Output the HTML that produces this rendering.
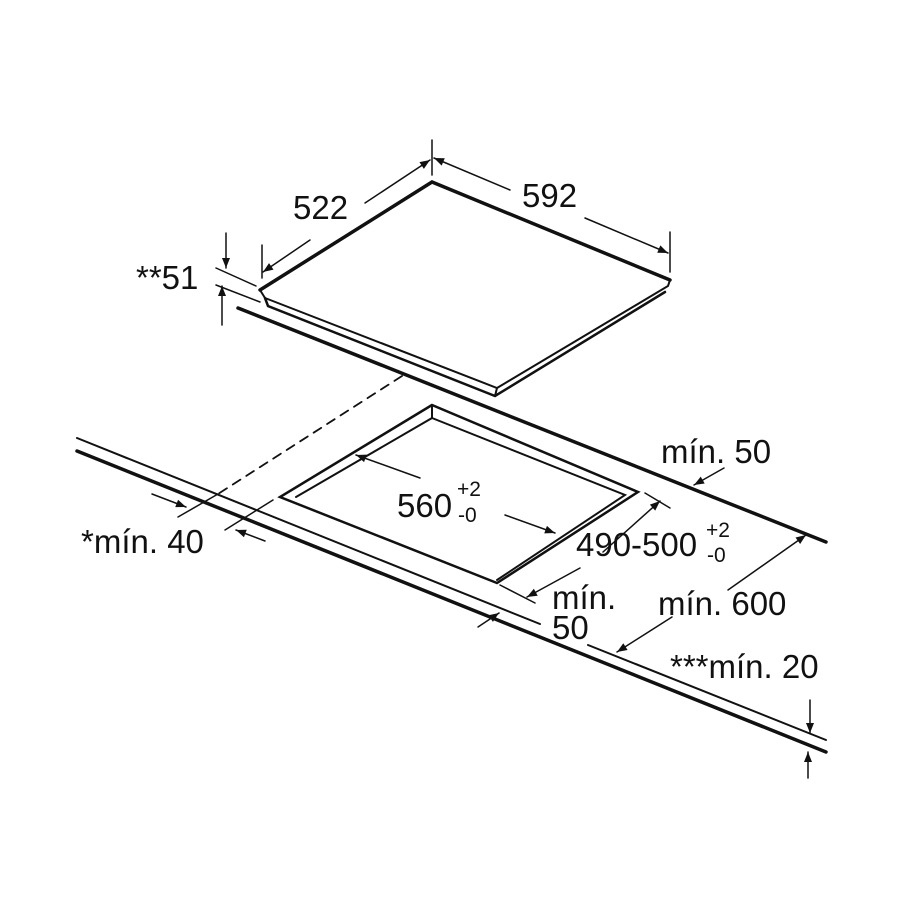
<!DOCTYPE html>
<html><head><meta charset="utf-8"><style>
html,body{margin:0;padding:0;background:#fff}
svg{display:block}
text{font-family:"Liberation Sans",Arial,sans-serif;fill:#111}
</style></head><body>
<svg width="900" height="900" viewBox="0 0 900 900" xmlns="http://www.w3.org/2000/svg">
<defs>
<marker id="a" viewBox="0 0 10 10" refX="10" refY="5" markerWidth="12" markerHeight="10" orient="auto-start-reverse" markerUnits="userSpaceOnUse"><path d="M0,1 L10,5 L0,9 z" fill="#111"/></marker>
</defs>
<g stroke="#111" fill="none" stroke-linecap="round">
<path d="M260,290 L432,182 L670,280" stroke-width="3.5"/>
<path d="M260,290 L265,298 L497,388 L668,286 L670,280" stroke-width="2"/>
<path d="M265,298 L268,306 L495,396 L665,292" stroke-width="2.5"/>
<path d="M497,388 L495,396" stroke-width="2"/>
<path d="M238,308 L826,542" stroke-width="3.5"/>
<path d="M77,438 L540,624 M588,645 L826,740" stroke-width="2"/>
<path d="M77,451 L826,752" stroke-width="3.5"/>
<path d="M432,405 L280,497 L497,583 L638,492 Z" stroke-width="2.5"/>
<path d="M432,405 L432,418 L296,497 M432,418 L625,495 L497,580" stroke-width="2"/>
<path d="M402,376 L218,494" stroke-width="1.8" stroke-dasharray="9,7"/>
<path d="M218,494 L178,517" stroke-width="1.5"/>
<path d="M273,500 L225,530" stroke-width="1.5"/>
<path d="M262,245 L262,278 M432,140 L432,175 M670,232 L670,272" stroke-width="1.5"/>
<path d="M310,240 L263,272" stroke-width="1.5" marker-end="url(#a)"/>
<path d="M365,203 L430,160" stroke-width="1.5" marker-end="url(#a)"/>
<path d="M510,190 L434,158" stroke-width="1.5" marker-end="url(#a)"/>
<path d="M585,218 L668,253" stroke-width="1.5" marker-end="url(#a)"/>
<path d="M216,268 L256,286 M216,285 L260,302" stroke-width="1.5"/>
<path d="M226,233 L226,268" stroke-width="1.5" marker-end="url(#a)"/>
<path d="M222,325 L222,286" stroke-width="1.5" marker-end="url(#a)"/>
<path d="M152,494 L186,507" stroke-width="1.5" marker-end="url(#a)"/>
<path d="M265,541 L236,530" stroke-width="1.5" marker-end="url(#a)"/>
<path d="M420,478 L356,455" stroke-width="1.5" marker-end="url(#a)"/>
<path d="M505,515 L555,533" stroke-width="1.5" marker-end="url(#a)"/>
<path d="M645,493 L670,508 M500,585 L535,603" stroke-width="1.5"/>
<path d="M603,552 L660,501" stroke-width="1.5" marker-end="url(#a)"/>
<path d="M580,568 L527,597" stroke-width="1.5" marker-end="url(#a)"/>
<path d="M724,468 L694,485" stroke-width="1.5" marker-end="url(#a)"/>
<path d="M728,590 L806,535" stroke-width="1.5" marker-end="url(#a)"/>
<path d="M672,617 L617,652" stroke-width="1.5" marker-end="url(#a)"/>
<path d="M478,627 L499,613" stroke-width="1.5" marker-end="url(#a)"/>
<path d="M810,700 L810,733" stroke-width="1.5" marker-end="url(#a)"/>
<path d="M808,778 L808,752" stroke-width="1.5" marker-end="url(#a)"/>
</g>
<g font-size="33">
<text x="293" y="219">522</text>
<text x="522" y="207">592</text>
<text x="136" y="289">**51</text>
<text x="397" y="517">560</text>
<text x="457" y="496" font-size="21">+2</text>
<text x="458" y="522" font-size="21">-0</text>
<text x="661" y="463">mín. 50</text>
<text x="81" y="553">*mín. 40</text>
<text x="576" y="556">490-500</text>
<text x="706" y="537" font-size="21">+2</text>
<text x="707" y="562" font-size="21">-0</text>
<text x="552" y="609">mín.</text>
<text x="552" y="639">50</text>
<text x="658" y="615">mín. 600</text>
<text x="670" y="678">***mín. 20</text>
</g>
</svg>
</body></html>
